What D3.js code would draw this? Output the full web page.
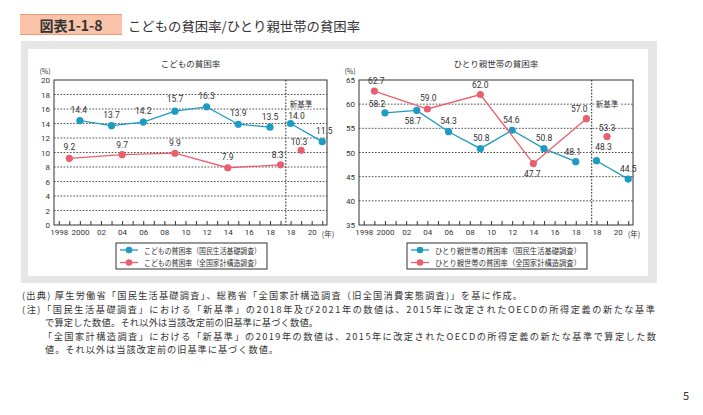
<!DOCTYPE html>
<html>
<head>
<meta charset="utf-8">
<script src="https://cdn.jsdelivr.net/npm/d3@7/dist/d3.min.js"></script>
<style>
body { margin: 0; background: #fff; }
text { font-family: "Noto Sans CJK JP", "Noto Sans", sans-serif; fill: #333; }
</style>
</head>
<body>
<svg id="page" width="703" height="415"></svg>
<script>
// x軸の目盛り（旧基準・新基準）
var oldTickYears = [1998, 2000, 2002, 2004, 2006, 2008, 2010, 2012, 2014, 2016, 2018];
var oldTickLabels = ["1998", "2000", "02", "04", "06", "08", "10", "12", "14", "16", "18"];
var newTickYears = [2018, 2020];
var newTickLabels = ["18", "20"];
var oldMinorYears = [1998, 1999, 2000, 2001, 2002, 2003, 2004, 2005, 2006, 2007, 2008, 2009,
                     2010, 2011, 2012, 2013, 2014, 2015, 2016, 2017, 2018, 2019];
var newMinorYears = [2018, 2019, 2020, 2021];

// 国民生活基礎調査（3年ごと）
var kisoYears = [2000, 2003, 2006, 2009, 2012, 2015, 2018];
var kisoNewYears = [2018, 2021];
// 全国家計構造調査（5年ごと）
var zenkokuYears = [1999, 2004, 2009, 2014, 2019];
var zenkokuNewYears = [2019];

// こどもの貧困率
var childKisoValues = [14.4, 13.7, 14.2, 15.7, 16.3, 13.9, 13.5];
var childKisoNewValues = [14.0, 11.5];
var childZenkokuValues = [9.2, 9.7, 9.9, 7.9, 8.3];
var childZenkokuNewValues = [10.3];
var childYTicks = [0, 2, 4, 6, 8, 10, 12, 14, 16, 18, 20];

// ひとり親世帯の貧困率
var singleKisoValues = [58.2, 58.7, 54.3, 50.8, 54.6, 50.8, 48.1];
var singleKisoNewValues = [48.3, 44.5];
var singleZenkokuValues = [62.7, 59.0, 62.0, 47.7, 57.0];
var singleZenkokuNewValues = [53.3];
var singleYTicks = [35, 40, 45, 50, 55, 60, 65];

var BLUE = "#1d9bc3";
var RED = "#e8606d";
var NEW_SHIFT = 1.95;   // 新基準の区間を右にずらす

var svg = d3.select("#page");

// 見出し
svg.append("rect").attr("x", 20).attr("y", 14).attr("width", 102).attr("height", 21)
    .attr("fill", "#f8c3a8");
svg.append("line").attr("x1", 20).attr("x2", 122).attr("y1", 14.5).attr("y2", 14.5)
    .attr("stroke", "#ec9a74").attr("stroke-width", 1);
svg.append("line").attr("x1", 20).attr("x2", 122).attr("y1", 34.5).attr("y2", 34.5)
    .attr("stroke", "#ec9a74").attr("stroke-width", 1);
svg.append("text").attr("x", 71).attr("y", 25).attr("text-anchor", "middle")
    .attr("dominant-baseline", "central")
    .style("font-size", "14px").style("font-weight", "bold").text("図表1-1-8");
svg.append("text").attr("x", 128).attr("y", 25).attr("dominant-baseline", "central")
    .attr("textLength", 232).attr("lengthAdjust", "spacingAndGlyphs")
    .style("font-size", "13px").attr("fill", "#3a3a3a").text("こどもの貧困率/ひとり親世帯の貧困率");

// 背景
svg.append("rect").attr("x", 21).attr("y", 41).attr("width", 636).attr("height", 242).attr("fill", "#e6e6e6");
svg.append("rect").attr("x", 28).attr("y", 49).attr("width", 620).attr("height", 227).attr("fill", "#fff");

function drawChart(opt) {
    var g = svg.append("g");
    var x = d3.scaleLinear().domain([1997.55, 2023.4]).range([opt.left, opt.right]);
    var y = d3.scaleLinear().domain([opt.yTicks[0], opt.yTicks[opt.yTicks.length - 1]])
        .range([opt.bottom, opt.top]);
    var xOld = function(yr) { return x(yr); };
    var xNew = function(yr) { return x(yr + NEW_SHIFT); };

    // タイトル
    g.append("text").attr("x", (opt.left + opt.right) / 2).attr("y", 63)
        .attr("text-anchor", "middle").attr("dominant-baseline", "central")
        .style("font-size", "8.5px").text(opt.title);
    g.append("text").attr("x", opt.left - 9).attr("y", 71)
        .attr("text-anchor", "middle").attr("dominant-baseline", "central")
        .style("font-size", "7px").text("(%)");

    // グリッド
    g.selectAll("line.grid")
        .data(opt.yTicks.slice(1, -1))
        .enter()
        .append("line")
        .attr("class", "grid")
        .attr("x1", opt.left).attr("x2", opt.right)
        .attr("y1", function(d) { return y(d); })
        .attr("y2", function(d) { return y(d); })
        .attr("stroke", "#3a3a3a").attr("stroke-width", 0.9)
        .attr("stroke-dasharray", "1.6,1.6");

    // 新基準の区切り
    var divX = x(2019.5);
    g.append("line").attr("x1", divX).attr("x2", divX).attr("y1", opt.top).attr("y2", opt.bottom)
        .attr("stroke", "#333").attr("stroke-width", 1.1).attr("stroke-dasharray", "1.6,1.6");
    var nb = g.append("text").attr("x", divX + 4).attr("y", 103).attr("dominant-baseline", "central")
        .style("font-size", "7.5px").text("新基準");
    var bb = nb.node().getBBox();
    g.insert("rect", "text:last-child").attr("x", bb.x - 1).attr("y", bb.y).attr("width", bb.width + 2)
        .attr("height", bb.height).attr("fill", "#fff");

    // 枠
    g.append("rect").attr("x", opt.left).attr("y", opt.top)
        .attr("width", opt.right - opt.left).attr("height", opt.bottom - opt.top)
        .attr("fill", "none").attr("stroke", "#333").attr("stroke-width", 1);

    // y軸
    var yAxis = g.append("g").attr("transform", "translate(" + opt.left + ",0)")
        .call(d3.axisLeft(y).tickValues(opt.yTicks).tickSize(0).tickPadding(4));
    yAxis.select(".domain").remove();
    yAxis.selectAll("text").style("font-size", "8px").style("font-family", "Roboto, 'Noto Sans', sans-serif")
        .attr("fill", "#333");

    // x軸 小目盛り
    var minor = oldMinorYears.map(function(d) { return d; })
        .concat(newMinorYears.map(function(d) { return d + NEW_SHIFT; }));
    var xAxisMinor = g.append("g").attr("transform", "translate(0," + opt.bottom + ")")
        .call(d3.axisBottom(x).tickValues(minor).tickSizeInner(-4).tickSizeOuter(0).tickFormat(""));
    xAxisMinor.select(".domain").remove();
    xAxisMinor.selectAll("line").attr("stroke", "#333");

    // x軸 ラベル
    var labelPos = oldTickYears.concat(newTickYears.map(function(d) { return d + NEW_SHIFT; }));
    var labelText = oldTickLabels.concat(newTickLabels);
    var xAxis = g.append("g").attr("transform", "translate(0," + opt.bottom + ")")
        .call(d3.axisBottom(x).tickValues(labelPos).tickSize(0).tickPadding(4)
            .tickFormat(function(d, i) { return labelText[i]; }));
    xAxis.select(".domain").remove();
    xAxis.selectAll("text").style("font-size", "8px").style("font-family", "Roboto, 'Noto Sans', sans-serif")
        .attr("fill", "#333");
    g.append("text").attr("x", opt.right + 1).attr("y", opt.bottom + 8.5)
        .attr("text-anchor", "middle").attr("dominant-baseline", "central")
        .style("font-size", "7.5px").text("(年)");

    // 系列
    var line = d3.line();
    opt.series.forEach(function(s) {
        var oldPts = s.years.map(function(yr, i) { return [xOld(yr), y(s.values[i])]; });
        var newPts = s.newYears.map(function(yr, i) { return [xNew(yr), y(s.newValues[i])]; });
        [oldPts, newPts].forEach(function(pts) {
            if (pts.length > 1) {
                g.append("path").attr("d", line(pts)).attr("fill", "none")
                    .attr("stroke", s.color).attr("stroke-width", 1.3);
            }
        });
        var all = oldPts.concat(newPts);
        var vals = s.values.concat(s.newValues);
        var offs = s.offsets;
        g.selectAll(null).data(all).enter().append("circle")
            .attr("cx", function(d) { return d[0]; })
            .attr("cy", function(d) { return d[1]; })
            .attr("r", 3.6).attr("fill", s.color);
        g.selectAll(null).data(all).enter().append("text")
            .attr("x", function(d, i) { return d[0] + offs[i][0]; })
            .attr("y", function(d, i) { return d[1] + offs[i][1]; })
            .attr("text-anchor", "middle").attr("dominant-baseline", "central")
            .style("font-size", "8.5px").style("font-family", "Roboto, 'Noto Sans', sans-serif")
            .attr("fill", "#444")
            .text(function(d, i) { return vals[i].toFixed(1); });
    });

    // 凡例
    var lw = opt.legendWidth;
    var lx = (opt.left + opt.right) / 2 + 1 - lw / 2;
    var leg = g.append("g").attr("transform", "translate(" + lx + ",243)");
    leg.append("rect").attr("width", lw).attr("height", 26)
        .attr("fill", "#fff").attr("stroke", "#333").attr("stroke-width", 1);
    opt.series.forEach(function(s, i) {
        var ly = 7 + i * 12.5;
        leg.append("line").attr("x1", 4).attr("x2", 22).attr("y1", ly).attr("y2", ly)
            .attr("stroke", s.color).attr("stroke-width", 1.3);
        leg.append("circle").attr("cx", 13).attr("cy", ly).attr("r", 3.3).attr("fill", s.color);
        leg.append("text").attr("x", 28).attr("y", ly).attr("dominant-baseline", "central")
            .attr("textLength", lw - 34).attr("lengthAdjust", "spacingAndGlyphs")
            .style("font-size", "7.5px").text(s.name);
    });
}

drawChart({
    left: 54, right: 327, top: 80, bottom: 225,
    yTicks: childYTicks,
    title: "こどもの貧困率",
    legendWidth: 151,
    series: [
        { name: "こどもの貧困率（国民生活基礎調査）", color: BLUE,
          years: kisoYears, values: childKisoValues,
          newYears: kisoNewYears, newValues: childKisoNewValues,
          offsets: [[-1, -10.5], [0, -10.5], [0, -11], [0, -12], [0, -10.5], [0, -11], [0, -10.5], [6, -8], [2, -10.5]] },
        { name: "こどもの貧困率（全国家計構造調査）", color: RED,
          years: zenkokuYears, values: childZenkokuValues,
          newYears: zenkokuNewYears, newValues: childZenkokuNewValues,
          offsets: [[0, -11], [0, -10], [0, -10], [0, -10.5], [-3, -9.5], [-2, -8]] }
    ]
});

drawChart({
    left: 359, right: 633, top: 80, bottom: 225,
    yTicks: singleYTicks,
    title: "ひとり親世帯の貧困率",
    legendWidth: 180,
    series: [
        { name: "ひとり親世帯の貧困率（国民生活基礎調査）", color: BLUE,
          years: kisoYears, values: singleKisoValues,
          newYears: kisoNewYears, newValues: singleKisoNewValues,
          offsets: [[-8, -9], [-4, 11], [0, -11], [1, -11], [-1, -10], [0, -11], [-3, -10], [7, -14], [0, -10]] },
        { name: "ひとり親世帯の貧困率（全国家計構造調査）", color: RED,
          years: zenkokuYears, values: singleZenkokuValues,
          newYears: zenkokuNewYears, newValues: singleZenkokuNewValues,
          offsets: [[2, -10], [1, -11], [0, -10], [-1, 10], [-7, -10], [0, -9]] }
    ]
});

// 注記
var notes = [
    { x: 22, y: 295, w: 500, t: "(出典) 厚生労働省「国民生活基礎調査」、総務省「全国家計構造調査（旧全国消費実態調査)」を基に作成。" },
    { x: 22, y: 308.5, w: 633, t: "(注)「国民生活基礎調査」における「新基準」の2018年及び2021年の数値は、2015年に改定されたOECDの所得定義の新たな基準" },
    { x: 45, y: 322, w: 273, t: "で算定した数値。それ以外は当該改定前の旧基準に基づく数値。" },
    { x: 43, y: 335.5, w: 613, t: "「全国家計構造調査」における「新基準」の2019年の数値は、2015年に改定されたOECDの所得定義の新たな基準で算定した数" },
    { x: 45, y: 349, w: 233, t: "値。それ以外は当該改定前の旧基準に基づく数値。" }
];
svg.selectAll("text.note").data(notes).enter().append("text")
    .attr("class", "note")
    .attr("x", function(d) { return d.x; })
    .attr("y", function(d) { return d.y; })
    .attr("dominant-baseline", "central")
    .attr("textLength", function(d) { return d.w; })
    .attr("lengthAdjust", "spacing")
    .style("font-size", "9.2px")
    .attr("fill", "#3a3a3a")
    .text(function(d) { return d.t; });

svg.append("text").attr("x", 686).attr("y", 395).attr("text-anchor", "middle")
    .attr("dominant-baseline", "central").style("font-size", "11px").text("5");
</script>
</body>
</html>
